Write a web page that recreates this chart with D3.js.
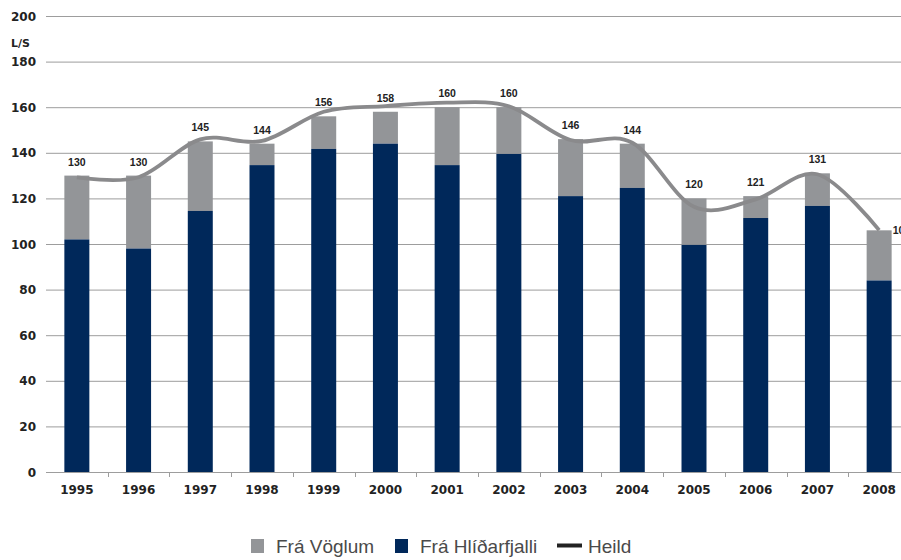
<!DOCTYPE html>
<html>
<head>
<meta charset="utf-8">
<script src="https://cdn.jsdelivr.net/npm/d3@7"></script>
<style>
  body { margin: 0; background: #fff; }
  svg { display: block; }
</style>
</head>
<body>
<svg id="chart" width="901" height="560"></svg>
<script>
"use strict";

const years = ["1995","1996","1997","1998","1999","2000","2001","2002","2003","2004","2005","2006","2007","2008"];
const hlidarfjall = [102, 98, 114.5, 134.6, 141.7, 144, 134.6, 139.5, 121, 124.6, 99.6, 111.4, 116.7, 84];
const heild = [130, 130, 145, 144, 156, 158, 160, 160, 146, 144, 120, 121, 131, 106];
// the smoothed "Heild" line as drawn (it does not pass exactly through the labels)
const heildLine = [129.2, 129.3, 145.9, 145.2, 158, 160.5, 162, 160.4, 145.6, 144.4, 116.3, 119.6, 130.6, 106.1];
const yTicks = [0, 20, 40, 60, 80, 100, 120, 140, 160, 180, 200];

const navy = '#00285a';
const grey = '#939598';
const lineGrey = '#8a8a8c';

const svg = d3.select('#chart');

const x = d3.scaleBand()
            .domain(years)
            .range([46, 910])
            .paddingInner(0.595)
            .paddingOuter(0.2975);

const y = d3.scaleLinear()
            .domain([0, 200])
            .range([472, 16]);

// grid lines
svg.append('g')
   .selectAll('line')
   .data(yTicks.filter(d => d > 0))
   .enter()
   .append('line')
   .attr('x1', 46)
   .attr('x2', 901)
   .attr('y1', d => y(d) + 0.5)
   .attr('y2', d => y(d) + 0.5)
   .attr('stroke', '#9d9d9d')
   .attr('stroke-width', 1);

// y labels
svg.append('g')
   .selectAll('text')
   .data(yTicks)
   .enter()
   .append('text')
   .attr('x', 36)
   .attr('y', d => y(d) + 4.5)
   .attr('text-anchor', 'end')
   .style('font-family', 'DejaVu Sans')
   .style('font-weight', 'bold')
   .style('font-size', '12px')
   .style('fill', '#222')
   .text(d => d);

svg.append('text')
   .attr('x', 11)
   .attr('y', 47)
   .style('font-family', 'DejaVu Sans')
   .style('font-weight', 'bold')
   .style('font-size', '11px')
   .style('fill', '#222')
   .text('L/S');

// stacked bars
const rows = years.map((yr, i) => ({year: yr, base: hlidarfjall[i], total: heild[i], line: heildLine[i]}));

const bars = svg.append('g').selectAll('g')
                .data(rows)
                .enter()
                .append('g');

bars.append('rect')
    .attr('x', d => x(d.year))
    .attr('width', x.bandwidth())
    .attr('y', d => y(d.total))
    .attr('height', d => y(d.base) - y(d.total))
    .attr('fill', grey);

bars.append('rect')
    .attr('x', d => x(d.year))
    .attr('width', x.bandwidth())
    .attr('y', d => y(d.base))
    .attr('height', d => y(0) - y(d.base))
    .attr('fill', navy);

// x axis
const axis = svg.append('g');
axis.append('line')
    .attr('x1', 46).attr('x2', 901)
    .attr('y1', 472.5).attr('y2', 472.5)
    .attr('stroke', '#9d9d9d');

axis.selectAll('line.tick')
    .data(years.slice(1))
    .enter()
    .append('line')
    .attr('class', 'tick')
    .attr('x1', d => Math.round(x(d) - x.step() * x.paddingInner() / 2) + 0.5)
    .attr('x2', d => Math.round(x(d) - x.step() * x.paddingInner() / 2) + 0.5)
    .attr('y1', 472)
    .attr('y2', 477)
    .attr('stroke', '#9d9d9d');

axis.selectAll('text')
    .data(years)
    .enter()
    .append('text')
    .attr('x', d => x(d) + x.bandwidth() / 2)
    .attr('y', 494)
    .attr('text-anchor', 'middle')
    .style('font-family', 'DejaVu Sans')
    .style('font-weight', 'bold')
    .style('font-size', '12px')
    .style('fill', '#222')
    .text(d => d);

// total line
const line = d3.line()
               .x(d => x(d.year) + x.bandwidth() / 2)
               .y(d => y(d.line))
               .curve(d3.curveCardinal.tension(0));

svg.append('path')
   .datum(rows)
   .attr('d', line)
   .attr('fill', 'none')
   .attr('stroke', lineGrey)
   .attr('stroke-width', 3.8)
   .attr('stroke-linejoin', 'round');

// value labels, the last one sits beside its bar
const last = rows.length - 1;
svg.append('g')
   .selectAll('text')
   .data(rows)
   .enter()
   .append('text')
   .attr('x', (d, i) => i === last ? x(d.year) + x.bandwidth() + 1 : x(d.year) + x.bandwidth() / 2)
   .attr('y', (d, i) => i === last ? y(d.total) + 4 : y(d.total) - 10)
   .attr('text-anchor', (d, i) => i === last ? 'start' : 'middle')
   .style('font-family', 'Liberation Sans')
   .style('font-weight', 'bold')
   .style('font-size', '10.5px')
   .style('fill', '#222')
   .text(d => d.total);

// legend
const legendItems = [
  {label: 'Frá Vöglum', type: 'rect', color: grey, x: 251},
  {label: 'Frá Hlíðarfjalli', type: 'rect', color: navy, x: 395},
  {label: 'Heild', type: 'line', color: '#222', x: 557}
];

const legend = svg.append('g')
                  .selectAll('g')
                  .data(legendItems)
                  .enter()
                  .append('g');

legend.filter(d => d.type === 'rect')
      .append('rect')
      .attr('x', d => d.x)
      .attr('y', 539)
      .attr('width', 13)
      .attr('height', 14)
      .attr('fill', d => d.color);

legend.filter(d => d.type === 'line')
      .append('line')
      .attr('x1', d => d.x)
      .attr('x2', d => d.x + 25)
      .attr('y1', 545.5)
      .attr('y2', 545.5)
      .attr('stroke', d => d.color)
      .attr('stroke-width', 4);

legend.append('text')
      .attr('x', d => d.type === 'line' ? d.x + 31 : d.x + 25)
      .attr('y', 553)
      .style('font-family', 'Liberation Sans')
      .style('font-size', '19px')
      .style('fill', '#4a4a4a')
      .text(d => d.label);
</script>
</body>
</html>
